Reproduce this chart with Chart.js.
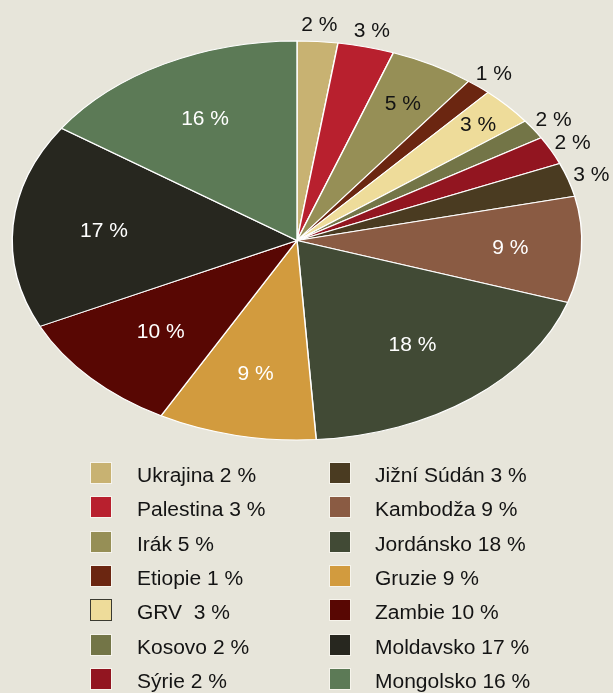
<!DOCTYPE html>
<html>
<head>
<meta charset="utf-8">
<script src="https://cdn.jsdelivr.net/npm/chart.js@4/dist/chart.umd.min.js"></script>
<style>
html, body { margin: 0; padding: 0; background: #e7e5da; }
#wrap { position: relative; width: 613px; height: 693px; overflow: hidden; background: #e7e5da; }
#c { position: absolute; left: 0; top: 0; }
.sw { position: absolute; width: 22px; height: 22px; box-sizing: border-box; border: 1px solid #f6f4ec; }
.lt { position: absolute; font-family: "Liberation Sans", Arial, sans-serif; font-size: 20px; line-height: 22px; color: #141414; white-space: pre; transform: scaleX(1.05); transform-origin: 0 50%; }
</style>
</head>
<body>
<div id="wrap">
  <canvas id="c" width="613" height="693"></canvas>
  <div id="legend"></div>
</div>
<script>
// ---- data ----
const categories = ['Ukrajina', 'Palestina', 'Irák', 'Etiopie', 'GRV ', 'Kosovo', 'Sýrie',
                    'Jižní Súdán', 'Kambodža', 'Jordánsko', 'Gruzie', 'Zambie', 'Moldavsko', 'Mongolsko'];
// slice sizes (%)
const shares = [2.3, 3.2, 4.8, 1.4, 3.1, 1.6, 2.3, 2.75, 8.6, 18.9, 9.0, 10.0, 16.6, 15.5];
// rounded percentages printed on the chart
const percentLabels = [2, 3, 5, 1, 3, 2, 2, 3, 9, 18, 9, 10, 17, 16];
const colors = ['#c8b272', '#b8202e', '#968f56', '#6b2611', '#eedc9a', '#737547', '#921520',
                '#4a3b21', '#8a5b43', '#414a35', '#d29b3e', '#580703', '#27271f', '#5c7a56'];

// ---- styling / placement (not data) ----
const X_STRETCH = 285.5 / 200;
const TEXT_STRETCH = 1.05;
const labelRadius = [1.085, 1.085, 0.78, 1.085, 0.86, 1.085, 1.085, 1.085, 0.75, 0.66, 0.68, 0.66, 0.68, 0.69];
const labelColor = ['#141414', '#141414', '#141414', '#141414', '#141414', '#141414', '#141414',
                    '#141414', '#ffffff', '#ffffff', '#ffffff', '#ffffff', '#ffffff', '#ffffff'];

const ellipsePlugin = {
  id: 'ellipse',
  beforeDatasetsDraw(chart) {
    const arc = chart.getDatasetMeta(0).data[0];
    const ctx = chart.ctx;
    ctx.save();
    ctx.translate(arc.x, arc.y);
    ctx.scale(X_STRETCH, 1);
    ctx.translate(-arc.x, -arc.y);
  },
  afterDatasetsDraw(chart) {
    chart.ctx.restore();
  }
};

const labelPlugin = {
  id: 'pctLabels',
  afterDraw(chart) {
    const ctx = chart.ctx;
    const arcs = chart.getDatasetMeta(0).data;
    arcs.forEach((a, i) => {
      const mid = (a.startAngle + a.endAngle) / 2;
      const r = a.outerRadius * labelRadius[i];
      const x = a.x + Math.cos(mid) * r * X_STRETCH;
      const y = a.y + Math.sin(mid) * r + 1;
      ctx.save();
      ctx.font = '20px "Liberation Sans", Arial, sans-serif';
      ctx.textAlign = 'center';
      ctx.textBaseline = 'middle';
      ctx.translate(x, y);
      ctx.scale(TEXT_STRETCH, 1);
      ctx.fillStyle = labelColor[i];
      ctx.fillText(percentLabels[i] + ' %', 0, 0);
      ctx.restore();
    });
  }
};

new Chart(document.getElementById('c'), {
  type: 'pie',
  data: {
    labels: categories,
    datasets: [{
      data: shares,
      backgroundColor: colors,
      borderColor: '#ffffff',
      borderWidth: 1,
      clip: false
    }]
  },
  options: {
    responsive: false,
    animation: false,
    layout: { padding: { top: 40.5, bottom: 252.5, left: 97, right: 116 } },
    plugins: { legend: { display: false }, tooltip: { enabled: false } }
  },
  plugins: [ellipsePlugin, labelPlugin]
});

// ---- legend (two columns of seven) ----
const legend = document.getElementById('legend');
const ROW0 = 461.7, ROWSTEP = 34.4;
categories.forEach((cat, i) => {
  const col = i < 7 ? 0 : 1;
  const row = i % 7;
  const top = ROW0 + row * ROWSTEP;
  const sw = document.createElement('div');
  sw.className = 'sw';
  sw.style.left = (col === 0 ? 89.5 : 329) + 'px';
  sw.style.top = top + 'px';
  sw.style.background = colors[i];
  if (cat.startsWith('GRV')) sw.style.borderColor = '#3a3a30';
  legend.appendChild(sw);
  const t = document.createElement('div');
  t.className = 'lt';
  t.style.left = (col === 0 ? 137 : 375) + 'px';
  t.style.top = (top + 2) + 'px';
  t.textContent = cat + ' ' + percentLabels[i] + ' %';
  legend.appendChild(t);
});
</script>
</body>
</html>
